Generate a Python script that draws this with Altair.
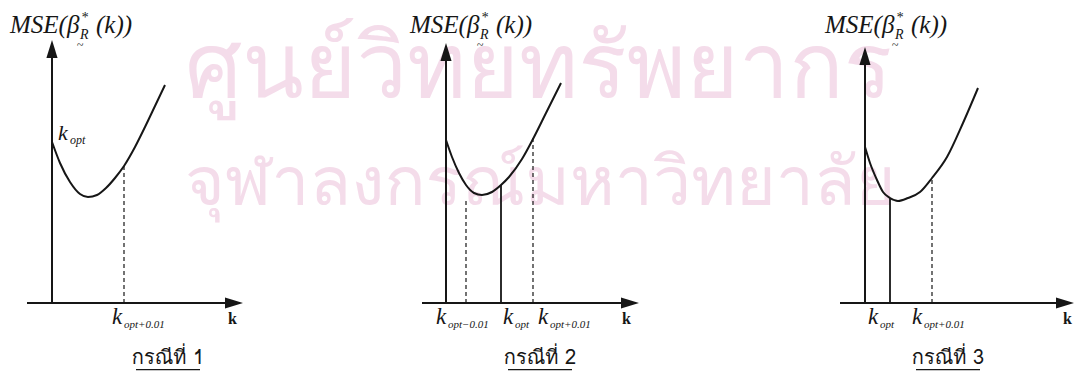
import altair as alt
import pandas as pd

# ---------------- data ----------------
# curve MSE(k) for each case (k units, MSE units)
c1_k = [0, 0.4, 0.9, 1.4, 1.8, 2.25, 2.7, 3.15, 3.6, 4.15, 4.65, 5.15, 5.65]
c1_m = [8.05, 7.0, 6.05, 5.45, 5.3, 5.4, 5.75, 6.25, 6.85, 7.8, 8.8, 9.85, 10.9]

c2_k = [0, 0.3, 0.65, 1.0, 1.4, 1.8, 2.3, 2.75, 3.15, 3.8, 4.35, 5.0, 5.75]
c2_m = [8.15, 7.3, 6.5, 5.9, 5.5, 5.4, 5.55, 5.9, 6.3, 7.2, 8.2, 9.5, 11.0]

c3_k = [0, 0.25, 0.6, 0.9, 1.25, 1.65, 2.15, 2.75, 3.35, 4.1, 4.9, 5.65]
c3_m = [7.8, 7.0, 6.15, 5.55, 5.25, 5.1, 5.25, 5.55, 6.25, 7.3, 9.0, 10.75]

# vertical marker lines: position, height, dashed?
v1_k, v1_top, v1_dash = [3.6], [6.85], [True]
v2_k, v2_top, v2_dash = [1.0, 2.75, 4.35], [5.2, 5.9, 8.3], [True, False, True]
v3_k, v3_top, v3_dash = [1.25, 3.35], [5.25, 6.25], [False, True]

# axis extents: y-arrow tip, x-axis start, x-arrow tip
ytip = [13.15, 13.0, 12.8]
xstart = [-1.25, -1.2, -1.25]
xtip = [9.55, 9.65, 10.45]

# k-axis labels (position, subscript)
xl1_k, xl1_sub = [3.0], ["opt+0.01"]
xl2_k, xl2_sub = [-0.5, 2.85, 4.6], ["opt\u22120.01", "opt", "opt+0.01"]
xl3_k, xl3_sub = [0.15, 2.35], ["opt", "opt+0.01"]
bold_k = [8.8, 8.8, 9.9]

mse_lab_k = [-2.1, -1.8, -2.0]
titles = ["กรณีที่ 1", "กรณีที่ 2", "กรณีที่ 3"]
title_k = [5.8, 4.7, 4.15]

watermark1 = ["ศูนย์วิทยทรัพยากร"]
watermark2 = ["จุฬาลงกรณ์มหาวิทยาลัย"]
wm_k = [6.65, 6.65]
wm_m = [10.3, 4.9]

# ---------------- styling ----------------
INK = "#161616"
SERIF = "Liberation Serif"
THAI = "Loma, Garuda, Norasi, Noto Sans Thai Looped, Noto Sans Thai, sans-serif"
UP = "M0,-1L0.62,1L-0.62,1Z"
RIGHT = "M1,0L-1,-0.62L-1,0.62Z"
ARROW = 18 / 20  # arrow length in data units

YDOM = [-3.45, 14.75]
H = 364


def panel(i, ck, cm, vk, vtop, vdash, xlk, xlsub, width, xdom, with_wm=False):
    xs = alt.Scale(domain=xdom, nice=False, zero=False)
    ys = alt.Scale(domain=YDOM, nice=False, zero=False)

    def enc(ch, **extra):
        return ch.encode(x=alt.X("k:Q", scale=xs, axis=None),
                         y=alt.Y("m:Q", scale=ys, axis=None), **extra)

    layers = []
    if with_wm:
        for txt, kk, mm, fs in [(watermark1, wm_k[0], wm_m[0], 90),
                                (watermark2, wm_k[1], wm_m[1], 68)]:
            wm = pd.DataFrame({"k": [kk], "m": [mm], "t": txt})
            layers.append(enc(alt.Chart(wm).mark_text(
                align="left", baseline="alphabetic", font=THAI, fontSize=fs,
                color="#f4dcea"), text="t:N"))

    # curve
    cdf = pd.DataFrame({"k": ck, "m": cm})
    layers.append(enc(alt.Chart(cdf).mark_line(
        color=INK, strokeWidth=2, interpolate="monotone")))

    # vertical marker lines
    vdf = pd.DataFrame({"k": vk, "top": vtop, "dash": vdash, "m": [0] * len(vk)})
    solid = vdf[~vdf["dash"]]
    dashed = vdf[vdf["dash"]]
    if len(solid):
        layers.append(enc(alt.Chart(solid).mark_rule(color=INK, strokeWidth=1.8),
                          y2="top:Q"))
    if len(dashed):
        layers.append(enc(alt.Chart(dashed).mark_rule(
            color=INK, strokeWidth=1.2, strokeDash=[4, 3]), y2="top:Q"))

    # axes
    yax = pd.DataFrame({"k": [0], "m": [0], "m2": [ytip[i] - ARROW]})
    layers.append(enc(alt.Chart(yax).mark_rule(color=INK, strokeWidth=2), y2="m2:Q"))
    xax = pd.DataFrame({"k": [xstart[i]], "k2": [xtip[i] - ARROW], "m": [0]})
    layers.append(enc(alt.Chart(xax).mark_rule(color=INK, strokeWidth=2), x2="k2:Q"))
    ua = pd.DataFrame({"k": [0], "m": [ytip[i] - ARROW / 2]})
    layers.append(enc(alt.Chart(ua).mark_point(
        shape=UP, size=324, filled=True, color=INK, opacity=1, strokeWidth=0)))
    ra = pd.DataFrame({"k": [xtip[i] - ARROW / 2], "m": [0]})
    layers.append(enc(alt.Chart(ra).mark_point(
        shape=RIGHT, size=324, filled=True, color=INK, opacity=1, strokeWidth=0)))

    # MSE label
    lab = pd.DataFrame({"k": [mse_lab_k[i]], "m": [13.5]})
    pieces = [
        ("MSE(\u03b2", 0, 0, 25, "left"),
        ("*", 71, -11, 14, "left"),
        ("R", 70, 6, 14, "left"),
        ("(k))", 86, 0, 25, "left"),
        ("~", 70, 16, 12, "center"),
    ]
    for t, dx, dy, fs, al in pieces:
        layers.append(enc(alt.Chart(lab).transform_calculate(t=f"'{t}'").mark_text(
            align=al, baseline="alphabetic", font=SERIF, fontStyle="italic",
            fontSize=fs, dx=dx, dy=dy, color=INK), text="t:N"))

    # k-axis labels
    xl = pd.DataFrame({"k": xlk, "m": [-1.05] * len(xlk), "sub": xlsub, "kk": ["k"] * len(xlk)})
    layers.append(enc(alt.Chart(xl).mark_text(
        align="left", baseline="alphabetic", font=SERIF, fontStyle="italic",
        fontSize=23, color=INK), text="kk:N"))
    layers.append(enc(alt.Chart(xl).mark_text(
        align="left", baseline="alphabetic", font=SERIF, fontStyle="italic",
        fontSize=11, dx=12, dy=4, color=INK), text="sub:N"))

    bk = pd.DataFrame({"k": [bold_k[i]], "m": [-1.05], "t": ["k"]})
    layers.append(enc(alt.Chart(bk).mark_text(
        align="left", baseline="alphabetic", font=SERIF, fontWeight="bold",
        fontSize=16, color=INK), text="t:N"))

    # k_opt label beside the y axis in case 1
    if i == 0:
        ko = pd.DataFrame({"k": [0.3], "m": [8.15], "kk": ["k"], "sub": ["opt"]})
        layers.append(enc(alt.Chart(ko).mark_text(
            align="left", baseline="alphabetic", font=SERIF, fontStyle="italic",
            fontSize=22, color=INK), text="kk:N"))
        layers.append(enc(alt.Chart(ko).mark_text(
            align="left", baseline="alphabetic", font=SERIF, fontStyle="italic",
            fontSize=12, dx=12, dy=4, color=INK), text="sub:N"))

    # title with underline
    tt = pd.DataFrame({"k": [title_k[i]], "m": [-3.05], "t": [titles[i]]})
    layers.append(enc(alt.Chart(tt).mark_text(
        align="center", baseline="alphabetic", font=THAI, fontSize=20,
        color=INK), text="t:N"))
    ul = pd.DataFrame({"k": [title_k[i] - 1.6], "k2": [title_k[i] + 1.6], "m": [-3.33]})
    layers.append(enc(alt.Chart(ul).mark_rule(color=INK, strokeWidth=1.4), x2="k2:Q"))

    return alt.layer(*layers).properties(width=width, height=H)


p1 = panel(0, c1_k, c1_m, v1_k, v1_top, v1_dash, xl1_k, xl1_sub, 356, [-2.2, 15.6], True)
p2 = panel(1, c2_k, c2_m, v2_k, v2_top, v2_dash, xl2_k, xl2_sub, 355, [-4.1, 13.65])
p3 = panel(2, c3_k, c3_m, v3_k, v3_top, v3_dash, xl3_k, xl3_sub, 356, [-7.3, 10.5])

chart = alt.hconcat(p1, p2, p3, spacing=0, padding=0, bounds="flush",
                    background="white").configure_view(stroke=None)

chart.save("out.html", embed_options={"renderer": "svg", "actions": False})
